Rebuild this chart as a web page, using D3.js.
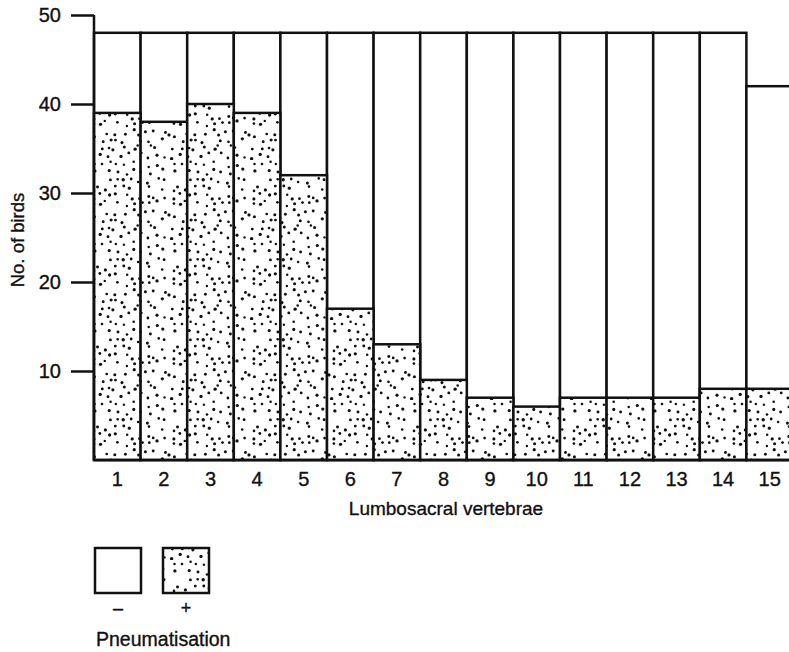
<!DOCTYPE html>
<html>
<head>
<meta charset="utf-8">
<script src="https://cdn.jsdelivr.net/npm/d3@7"></script>
<style>
  body { margin: 0; background: #fff; }
  svg { display: block; }
  text { font-family: "Liberation Sans", Arial, sans-serif; fill: #111; stroke: #111; stroke-width: 0.35px; }
</style>
</head>
<body>
<script>
// data
var vertebrae = ['1','2','3','4','5','6','7','8','9','10','11','12','13','14','15'];
var totalBirds = [48,48,48,48,48,48,48,48,48,48,48,48,48,48,42];
var pneumatised = [39,38,40,39,32,17,13,9,7,6,7,7,7,8,8];
var yTicks = [10,20,30,40,50];

var W = 789, H = 652;
var ink = '#111';

var svg = d3.select('body').append('svg')
  .attr('width', W)
  .attr('height', H);

// stipple texture: jittered grid of dots with a fixed seed (only the look)
var seed = 11;
function rnd() { seed = (seed * 16807) % 2147483647; return seed / 2147483647; }
var tile = 80, cell = 7.6;
var defs = svg.append('defs');
var pat = defs.append('pattern')
  .attr('id', 'stipple')
  .attr('patternUnits', 'userSpaceOnUse')
  .attr('width', tile).attr('height', tile);
pat.append('rect').attr('width', tile).attr('height', tile).attr('fill', '#fff');
var n = Math.floor(tile / cell), step = tile / n;
for (var gx = 0; gx < n; gx++) {
  for (var gy = 0; gy < n; gy++) {
    if (rnd() < 0.1) continue;
    pat.append('circle')
      .attr('cx', ((gx + 0.1 + rnd() * 0.8) * step).toFixed(1))
      .attr('cy', ((gy + 0.1 + rnd() * 0.8) * step).toFixed(1))
      .attr('r', (1.2 + rnd() * 0.5).toFixed(2))
      .attr('fill', ink);
  }
}

// scales
var bandW = 46.6, x0 = 94;
var x = d3.scaleBand()
  .domain(vertebrae)
  .range([x0, x0 + bandW * vertebrae.length])
  .padding(0);

var y = d3.scaleLinear()
  .domain([0, 50])
  .range([460, 15]);

// bars: full count outline, stippled part for pneumatised
var bars = svg.append('g');
bars.selectAll('.total')
  .data(vertebrae)
  .enter().append('rect')
  .attr('class', 'total')
  .attr('x', function(d) { return x(d); })
  .attr('y', function(d, i) { return y(totalBirds[i]); })
  .attr('width', x.bandwidth())
  .attr('height', function(d, i) { return y(0) - y(totalBirds[i]); })
  .attr('fill', '#fff')
  .attr('stroke', ink)
  .attr('stroke-width', 2.5);

bars.selectAll('.pos')
  .data(vertebrae)
  .enter().append('rect')
  .attr('class', 'pos')
  .attr('x', function(d) { return x(d); })
  .attr('y', function(d, i) { return y(pneumatised[i]); })
  .attr('width', x.bandwidth())
  .attr('height', function(d, i) { return y(0) - y(pneumatised[i]); })
  .attr('fill', 'url(#stipple)')
  .attr('stroke', ink)
  .attr('stroke-width', 2.5);

// y axis
var yAxis = svg.append('g')
  .attr('transform', 'translate(' + x0 + ',0)')
  .call(d3.axisLeft(y).tickValues(yTicks).tickSize(23).tickSizeOuter(0).tickPadding(10));
yAxis.select('.domain').remove();
yAxis.append('line')
  .attr('x1', 0).attr('x2', 0)
  .attr('y1', y(0)).attr('y2', y(50))
  .attr('stroke', ink).attr('stroke-width', 2.5);
yAxis.selectAll('.tick line').attr('stroke', ink).attr('stroke-width', 2.5);
yAxis.selectAll('.tick text')
  .style('font-size', '20px')
  .attr('fill', ink);

// x axis
var xAxis = svg.append('g')
  .attr('transform', 'translate(0,' + y(0) + ')')
  .call(d3.axisBottom(x).tickSize(0).tickPadding(12));
xAxis.select('.domain').remove();
xAxis.append('line')
  .attr('x1', x0).attr('x2', W)
  .attr('y1', 0).attr('y2', 0)
  .attr('stroke', ink).attr('stroke-width', 2.5);
xAxis.selectAll('.tick text')
  .style('font-size', '20px')
  .attr('fill', ink);

// axis titles
svg.append('text')
  .attr('x', 446).attr('y', 515)
  .attr('text-anchor', 'middle')
  .style('font-size', '19px')
  .text('Lumbosacral vertebrae');

svg.append('text')
  .attr('transform', 'translate(24,240) rotate(-90)')
  .attr('text-anchor', 'middle')
  .style('font-size', '18.5px')
  .text('No. of birds');

// legend
var legend = svg.append('g');
var legendItems = [
  { fill: '#fff', sign: '\u2013', lx: 95 },
  { fill: 'url(#stipple)', sign: '+', lx: 163 }
];
legendItems.forEach(function(d) {
  legend.append('rect')
    .attr('x', d.lx).attr('y', 548)
    .attr('width', 46).attr('height', 45)
    .attr('fill', d.fill)
    .attr('stroke', ink).attr('stroke-width', 2.5);
  legend.append('text')
    .attr('x', d.lx + 23).attr('y', 614)
    .attr('text-anchor', 'middle')
    .style('font-size', '18px')
    .text(d.sign);
});
legend.append('text')
  .attr('x', 96).attr('y', 646)
  .style('font-size', '19.5px')
  .text('Pneumatisation');
</script>
</body>
</html>
